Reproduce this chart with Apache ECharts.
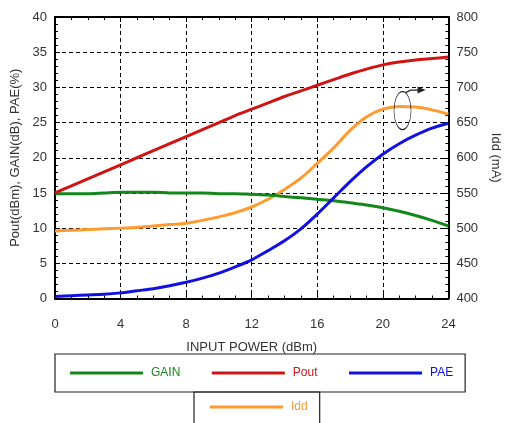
<!DOCTYPE html>
<html>
<head>
<meta charset="utf-8">
<script src="https://cdn.jsdelivr.net/npm/echarts@6/dist/echarts.min.js"></script>
<style>
  html, body { margin: 0; padding: 0; background: #fff; }
  #chart { width: 510px; height: 423px; }
</style>
</head>
<body>
<div id="chart"></div>
<script>
// Input power sweep (dBm)
const inputPower = [0,1,2,3,4,5,6,7,8,9,10,11,12,13,14,15,16,17,18,19,20,21,22,23,24];
// Output power (dBm)
const pout = [15.0,16.0,17.0,18.0,19.0,20.0,21.0,22.0,23.0,24.0,25.0,26.0,26.9,27.8,28.7,29.5,30.3,31.1,31.9,32.6,33.2,33.6,33.9,34.1,34.3];
// Gain (dB)
const gain = [14.9,14.9,14.9,15.0,15.1,15.1,15.1,15.0,15.0,15.0,14.9,14.9,14.8,14.7,14.5,14.3,14.1,13.9,13.6,13.3,12.9,12.4,11.8,11.1,10.3];
// Power added efficiency (%)
const pae = [0.3,0.4,0.5,0.6,0.8,1.1,1.4,1.8,2.3,2.9,3.6,4.5,5.5,6.8,8.2,9.9,12.0,14.3,16.6,18.7,20.5,22.0,23.2,24.2,24.9];
// Drain current (mA)
const idd = [496,497,498,499,500,501,503,505,507,511,516,522,530,541,555,571,592,614,639,658,669,673,672,668,662];

const xTicks = { min: 0, max: 24, step: 4 };
const leftTicks = { min: 0, max: 40, step: 5 };
const rightTicks = { min: 400, max: 800, step: 50 };

const colors = { GAIN: '#14871a', Pout: '#d01414', PAE: '#1010e0', Idd: '#ff9a2e' };

const pairs = (ys) => inputPower.map((x, i) => [x, ys[i]]);

const chart = echarts.init(document.getElementById('chart'), null, { renderer: 'canvas' });

const axisFont = { fontFamily: 'Liberation Sans, Arial, sans-serif', fontSize: 13, color: '#333' };
const frameLine = { show: true, onZero: false, lineStyle: { color: '#000', width: 2 } };
const dashed = { show: true, lineStyle: { color: '#000', width: 1, type: [4, 3] } };

const lineSeries = (name, ys, yAxisIndex, z) => ({
  name, type: 'line', data: pairs(ys), yAxisIndex, xAxisIndex: 0,
  smooth: 0.3, showSymbol: false, symbol: 'none', z,
  lineStyle: { color: colors[name], width: 3 },
  itemStyle: { color: colors[name] },
  emphasis: { disabled: true }
});

const legendItem = (name) => ({ name, textStyle: { color: colors[name] } });
const legendBase = {
  orient: 'horizontal', icon: 'rect', itemWidth: 73, itemHeight: 3,
  borderColor: '#222', borderWidth: 1.2, borderRadius: 0,
  selectedMode: false,
  textStyle: { fontFamily: 'Liberation Sans, Arial, sans-serif', fontSize: 12, lineHeight: 14, padding: [0, 0, 0, 3] }
};

chart.setOption({
  animation: false,
  backgroundColor: '#fff',
  grid: { left: 55, right: 56, top: 17, bottom: 124.5, containLabel: false },
  xAxis: [{
    type: 'value', min: xTicks.min, max: xTicks.max, interval: xTicks.step,
    name: 'INPUT POWER (dBm)', nameLocation: 'middle', nameGap: 42,
    nameTextStyle: axisFont,
    axisLine: frameLine,
    axisTick: { show: true, inside: true, length: 5, lineStyle: { color: '#000' } },
    minorTick: { show: true, splitNumber: 4, length: 3, lineStyle: { color: '#000' } },
    axisLabel: Object.assign({ margin: 19 }, axisFont),
    splitLine: dashed
  }, {
    type: 'value', position: 'top', min: xTicks.min, max: xTicks.max, interval: xTicks.step,
    axisLine: frameLine,
    axisTick: { show: true, inside: true, length: 5, lineStyle: { color: '#000' } },
    minorTick: { show: true, splitNumber: 4, length: 3, lineStyle: { color: '#000' } },
    axisLabel: { show: false }, splitLine: { show: false }
  }],
  yAxis: [{
    type: 'value', min: leftTicks.min, max: leftTicks.max, interval: leftTicks.step,
    name: 'Pout(dBm), GAIN(dB), PAE(%)', nameLocation: 'middle', nameGap: 33, nameRotate: 90,
    nameTextStyle: axisFont,
    axisLine: frameLine,
    axisTick: { show: true, inside: true, length: 5, lineStyle: { color: '#000' } },
    minorTick: { show: true, splitNumber: 5, length: 3, lineStyle: { color: '#000' } },
    axisLabel: Object.assign({ margin: 8 }, axisFont),
    splitLine: dashed
  }, {
    type: 'value', position: 'right', min: rightTicks.min, max: rightTicks.max, interval: rightTicks.step,
    name: 'Idd (mA)', nameLocation: 'middle', nameGap: 38, nameRotate: -90,
    nameTextStyle: axisFont,
    axisLine: frameLine,
    axisTick: { show: true, inside: true, length: 5, lineStyle: { color: '#000' } },
    minorTick: { show: true, splitNumber: 5, length: 3, lineStyle: { color: '#000' } },
    axisLabel: Object.assign({ margin: 8 }, axisFont),
    splitLine: { show: false }
  }],
  legend: [
    Object.assign({}, legendBase, {
      left: 55, top: 354, itemGap: 31.5, padding: [12, 12, 12, 15],
      data: ['GAIN', 'Pout', 'PAE'].map(legendItem)
    }),
    Object.assign({}, legendBase, {
      left: 194, top: 392, itemGap: 10, padding: [8, 12, 20, 16],
      data: ['Idd'].map(legendItem)
    })
  ],
  series: [
    lineSeries('GAIN', gain, 0, 3),
    lineSeries('Pout', pout, 0, 4),
    lineSeries('PAE', pae, 0, 5),
    lineSeries('Idd', idd, 1, 2)
  ]
});

// Marker showing that the Idd curve belongs to the right-hand axis
const c = chart.convertToPixel({ xAxisIndex: 0, yAxisIndex: 0 }, [21.2, 26.7]);
const rx = 8.5, ry = 19;
chart.setOption({
  graphic: [{
    type: 'circle', x: c[0], y: c[1], scaleX: rx / ry, scaleY: 1, z: 20,
    shape: { cx: 0, cy: 0, r: ry },
    style: { fill: 'none', stroke: '#222', lineWidth: 1.2, strokeNoScale: true }
  }, {
    type: 'polyline', z: 20,
    shape: { points: [[c[0] + 3, c[1] - ry + 1], [c[0] + 8, c[1] - ry - 1.5], [c[0] + 17, c[1] - ry - 1.5]] },
    style: { fill: 'none', stroke: '#222', lineWidth: 1.2 }
  }, {
    type: 'polygon', z: 20,
    shape: { points: [[c[0] + 23, c[1] - ry - 1.5], [c[0] + 15, c[1] - ry - 5], [c[0] + 15, c[1] - ry + 2]] },
    style: { fill: '#222' }
  }]
});
</script>
</body>
</html>
